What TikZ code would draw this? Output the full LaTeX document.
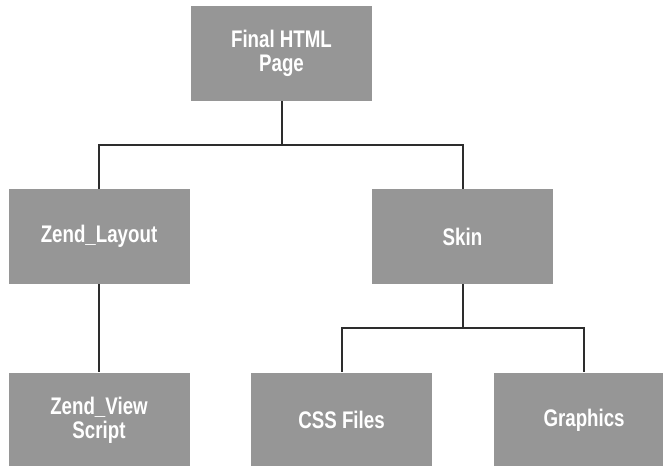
\documentclass[tikz,border=0pt]{standalone}
\usepackage{fontspec}
\setmainfont{Liberation Sans}[FakeStretch=0.78]
\usetikzlibrary{positioning}
\definecolor{BoxGray}{RGB}{150, 150, 150}
\definecolor{LineGray}{RGB}{45, 45, 45}

\begin{document}
\begin{tikzpicture}[
    x=0.75pt, y=-0.75pt,
    node distance=66pt,
    box/.style={fill=BoxGray, rectangle, minimum width=135.75pt, minimum height=71.25pt, align=center, text=white, font=\bfseries\fontsize{18}{18}\selectfont},
    link/.style={line width=1.5pt, LineGray}
  ]
    \useasboundingbox (0,0) rectangle (663,466);
    \fill[white] (0,0) rectangle (663,466);

    \node[box] (final) at (281.5,53.5) {Final HTML\\Page};
    \node[box] (layout) at (99,236.5) {Zend\_Layout};
    \node[box] (skin) at (462.5,236.5) {Skin};
    \node[box, below=66pt of layout] (view) {Zend\_View\\Script};
    \node[box, right=45.75pt of view] (css) {CSS Files};
    \node[box, right=45.75pt of css] (graphics) {Graphics};

    \draw[link] (final.south) -- ++(0,-33pt) -| (layout.north);
    \draw[link] (final.south) -- ++(0,-33pt) -| (skin.north);
    \draw[link] (layout) -- (view);
    \draw[link] (skin.south) -- ++(0,-33pt) -| (css.north);
    \draw[link] (skin.south) -- ++(0,-33pt) -| (graphics.north);
  \end{tikzpicture}
\end{document}
